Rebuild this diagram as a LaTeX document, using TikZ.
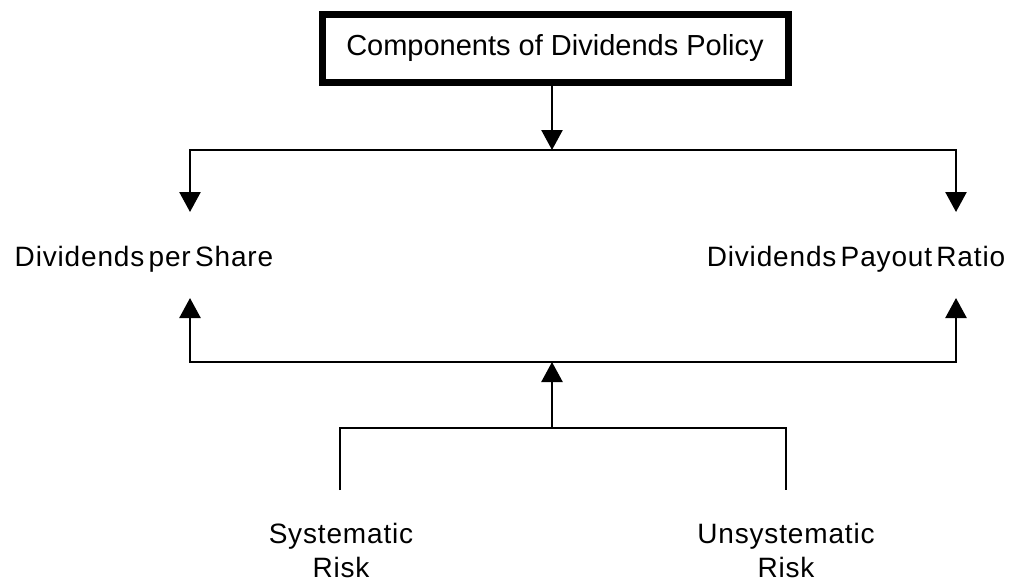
\documentclass[tikz,border=0pt]{standalone}
\usepackage{fontspec}
\setmainfont{Liberation Sans}
\newfontfamily\lblfont[LetterSpace=3,WordSpace=0.5]{Liberation Sans}
\usetikzlibrary{arrows.meta}
\begin{document}
\begin{tikzpicture}[x=1pt,y=-1pt,
  conn/.style={line width=2.5pt,line join=miter},
  arr/.style={conn,-{Triangle[length=20pt,width=21pt]}},
  lbl/.style={font=\lblfont\fontsize{28}{34}\selectfont,inner sep=0pt,align=center},
  topbox/.style={draw,line width=7pt,minimum width=466pt,minimum height=68pt,font=\fontsize{29}{34}\selectfont}]
\useasboundingbox (0,0) rectangle (1014,582);
\node[topbox] (top) at (555,48) {Components of Dividends Policy};
\node[lbl] (dps) at (144,259) {Dividends per Share};
\node[lbl] (dpr) at (856,259) {Dividends Payout Ratio};
\node[lbl] (sys) at (341,550) {Systematic\\Risk};
\node[lbl] (uns) at (786,550) {Unsystematic\\Risk};
\coordinate (jt) at (552,150);
\coordinate (lt) at (190,212);
\coordinate (rt) at (956,212);
\coordinate (jb) at (552,362);
\coordinate (lb) at (190,298);
\coordinate (rb) at (956,298);
\coordinate (jr) at (552,428);
\coordinate (st) at (340,490);
\coordinate (ut) at (786,490);
\draw[arr] (top.south -| jt) -- (jt);
\draw[arr] (jt) -| (lt);
\draw[arr] (jt) -| (rt);
\draw[arr] (jb) -| (lb);
\draw[arr] (jb) -| (rb);
\draw[arr] (jr) -- (jb);
\draw[conn] (st) |- (jr) -| (ut);
\end{tikzpicture}
\end{document}
